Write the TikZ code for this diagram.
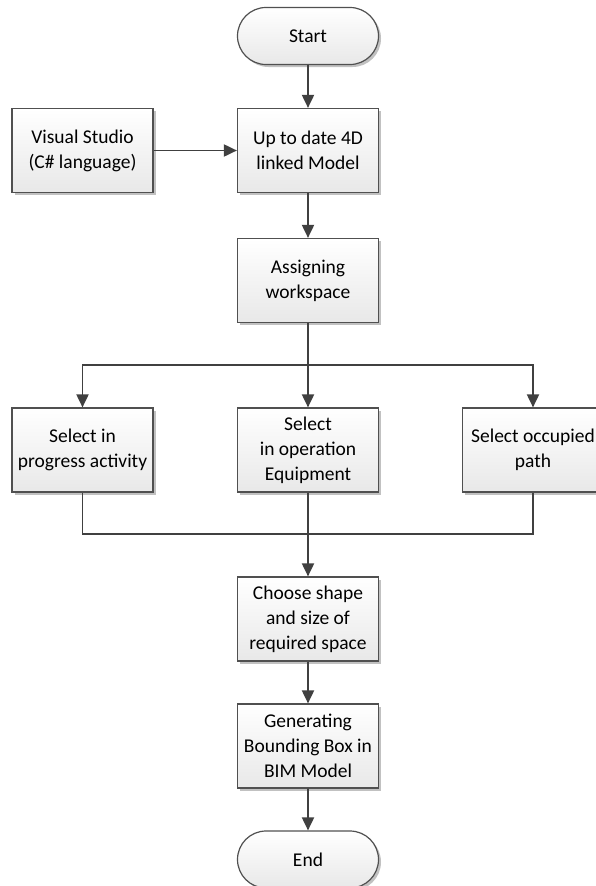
\documentclass[tikz,border=0pt]{standalone}
\usepackage{fontspec}
\setmainfont{Carlito}
\usetikzlibrary{arrows.meta,shadows,shapes.misc}
\definecolor{edge}{HTML}{404040}
\definecolor{frame}{HTML}{505050}
\tikzset{
  proc/.style={draw=frame, line width=1.2pt, top color=white, bottom color=black!9,
    minimum width=141pt, minimum height=84pt, align=center, inner sep=0pt,
    font=\fontsize{19.5}{25}\selectfont,
    drop shadow={shadow xshift=2.5pt, shadow yshift=-2.5pt, fill=black!30, opacity=0.8}},
  term/.style={proc, rounded rectangle, minimum height=57pt},
  flow/.style={draw=edge, line width=1.9pt, -{Triangle[length=13pt,width=12pt]}},
  plain/.style={draw=edge, line width=1.9pt}
}
\begin{document}
\begin{tikzpicture}[x=1pt,y=-1pt]
\useasboundingbox (0,0) rectangle (595,886);
% terminals and process boxes
\node[term] (start) at (308,36) {Start};
\node[proc] (model) at (308,150.5) {Up to date 4D\\linked Model};
\node[proc] (vs) at (82.5,150.5) {Visual Studio\\(C\# language)};
\node[proc] (assign) at (308,280.5) {Assigning\\workspace};
\node[proc] (sel1) at (82.5,450) {Select in\\progress activity};
\node[proc] (sel2) at (308,450) {Select\\in operation\\Equipment};
\node[proc] (sel3) at (533,450) {Select occupied\\path};
\node[proc] (choose) at (308,619) {Choose shape\\and size of\\required space};
\node[proc] (gen) at (308,746) {Generating\\Bounding Box in\\BIM Model};
\node[term] (end) at (308,859.5) {End};
% branch and merge points
\coordinate (split) at (308,365);
\coordinate (merge) at (308,534);
% connectors
\draw[flow] (start) -- (model);
\draw[flow] (vs) -- (model);
\draw[flow] (model) -- (assign);
\draw[plain] (assign.south) -- (split);
\draw[flow] (split) -| (sel1.north);
\draw[flow] (split) -- (sel2.north);
\draw[flow] (split) -| (sel3.north);
\draw[plain] (sel1.south) |- (merge);
\draw[plain] (sel3.south) |- (merge);
\draw[plain] (sel2.south) -- (merge);
\draw[flow] (merge) -- (choose.north);
\draw[flow] (choose) -- (gen);
\draw[flow] (gen) -- (end);
\end{tikzpicture}
\end{document}
